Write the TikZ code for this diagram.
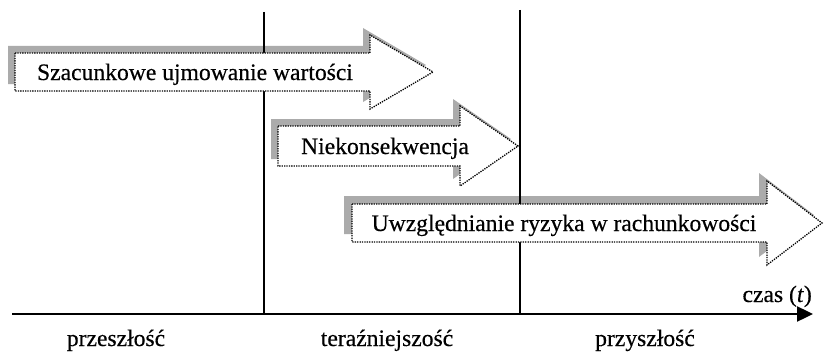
\documentclass[tikz,border=0pt]{standalone}
\usepackage{fontspec}
\setmainfont{Liberation Serif}[FakeBold=0.4]
\usetikzlibrary{arrows.meta}
\tikzset{
  shadowc/.style={fill=black!33},
  arrowbody/.style={fill=white, draw=black, line width=1.3pt, dash pattern=on 1.3pt off 1.1pt},
  vline/.style={line width=2.2pt},
  axisline/.style={line width=2.4pt, -{Triangle[length=16pt,width=15pt]}},
  lbl/.style={font=\fontsize{23.6}{28}\selectfont, inner sep=0pt},
}
% #1 left, #2 head back, #3 centre y, #4 body half height, #5 head half height, #6 tip x
\newcommand{\fatarrowpath}[6]{(#1,#3-#4) -- (#2,#3-#4) -- (#2,#3-#5) -- (#6,#3) -- (#2,#3+#5) -- (#2,#3+#4) -- (#1,#3+#4) -- cycle}
\begin{document}
\begin{tikzpicture}[x=1pt,y=-1pt]
\useasboundingbox (0,0) rectangle (824,353);
% shadows
\fill[shadowc, shift={(-7,-7)}] \fatarrowpath{15}{370}{72}{19}{37}{433};
\fill[shadowc, shift={(-7,-7)}] \fatarrowpath{278}{460}{146}{20}{40}{518};
\fill[shadowc, shift={(-8,-8)}] \fatarrowpath{352}{767}{223}{19}{42}{822};
% time lines
\coordinate (l1t) at (264,12);
\coordinate (l1b) at (264,314);
\coordinate (l2t) at (520,10);
\coordinate (l2b) at (520,314);
\coordinate (axL) at (12,314);
\coordinate (axR) at (813,314);
\draw[vline] (l1t) -- (l1b);
\draw[vline] (l2t) -- (l2b);
\draw[axisline] (axL) -- (axR);
% arrows
\draw[arrowbody] \fatarrowpath{15}{370}{72}{19}{37}{433};
\draw[arrowbody] \fatarrowpath{278}{460}{146}{20}{40}{518};
\draw[arrowbody] \fatarrowpath{352}{767}{223}{19}{42}{822};
% texts
\node[lbl, anchor=base] (t1) at (195,80) {Szacunkowe ujmowanie wartości};
\node[lbl, anchor=base] (t2) at (385,154) {Niekonsekwencja};
\node[lbl, anchor=base] (t3) at (564,231) {Uwzględnianie ryzyka w rachunkowości};
\node[lbl, anchor=base east] (czas) at (812,302) {czas (\textit{t})};
\node[lbl, anchor=base] (past) at (116,346) {przeszłość};
\node[lbl, anchor=base] (pres) at (387,346) {teraźniejszość};
\node[lbl, anchor=base] (fut) at (645,346) {przyszłość};
\end{tikzpicture}
\end{document}
